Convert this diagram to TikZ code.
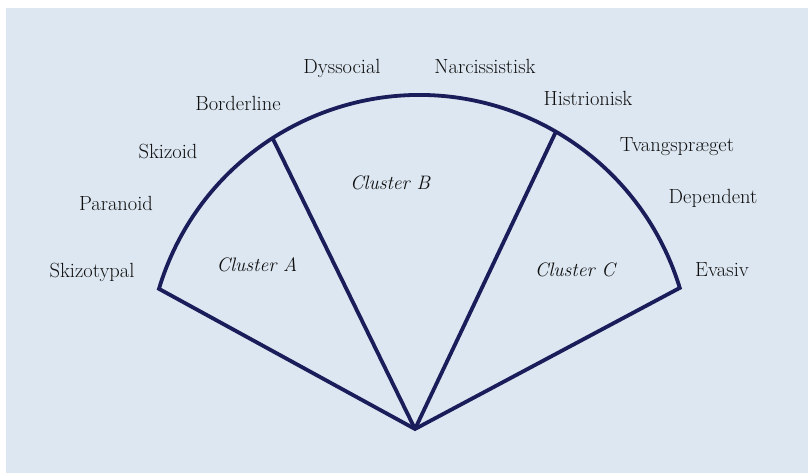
\documentclass[tikz,border=0pt]{standalone}
\definecolor{bgblue}{RGB}{221,231,241}
\definecolor{navy}{RGB}{25,29,90}
\definecolor{txt}{RGB}{15,15,15}
\tikzset{
  frame/.style={draw=navy, line width=3.8pt, line join=miter},
  lbl/.style={text=txt, font=\fontsize{20.5}{24}\selectfont, inner sep=0pt},
  clus/.style={text=txt, font=\fontsize{19.5}{23}\selectfont\itshape, inner sep=0pt}
}
\begin{document}
\begin{tikzpicture}[x=1pt,y=1pt]
\useasboundingbox (0,0) rectangle (808,473);
\fill[white] (0,0) rectangle (808,473);
\fill[bgblue] (6,0) rectangle (808,465);
\coordinate (C) at (419.5,106);
\coordinate (P) at (415,44);
\coordinate (L) at ([shift={(C)}]163.3:272);
\coordinate (R) at ([shift={(C)}]16.9:272);
\coordinate (DA) at ([shift={(C)}]122.7:272);
\coordinate (DB) at ([shift={(C)}]59.9:272);
\draw[frame] (P) -- (L) arc[start angle=163.3, end angle=16.9, radius=272] -- cycle;
\draw[frame] (P) -- (DA);
\draw[frame] (P) -- (DB);
\node[lbl] (dys) at (342,405) {Dyssocial};
\node[lbl] (nar) at (485,407) {Narcissistisk};
\node[lbl] (bor) at (238,370) {Borderline};
\node[lbl] (his) at (588,375) {Histrionisk};
\node[lbl] (ski) at (168,321) {Skizoid};
\node[lbl] (tva) at (677,326) {Tvangspræget};
\node[lbl] (par) at (116,270) {Paranoid};
\node[lbl] (dep) at (713,275) {Dependent};
\node[lbl] (skt) at (92,201) {Skizotypal};
\node[lbl] (eva) at (722,203) {Evasiv};
\node[clus] (ca) at (257,208) {Cluster A};
\node[clus] (cb) at (390,290) {Cluster B};
\node[clus] (cc) at (575,203) {Cluster C};
\end{tikzpicture}
\end{document}
